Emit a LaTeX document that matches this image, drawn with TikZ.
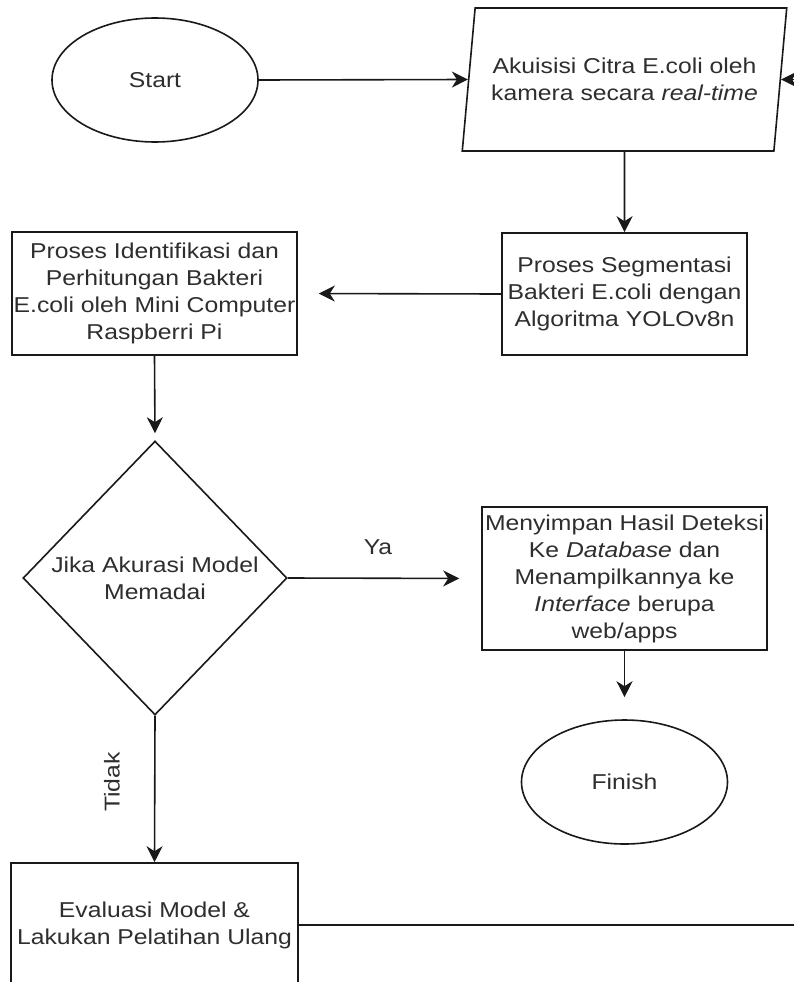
\documentclass[tikz,border=0pt]{standalone}
\usepackage{fontspec}
\setmainfont{Liberation Sans}[FakeStretch=1.15]
\usetikzlibrary{shapes.geometric,arrows.meta}
\begin{document}
\begin{tikzpicture}[x=1pt,y=-1pt,
  every node/.style={font=\fontsize{21.5}{27}\selectfont, text=black!82},
  flow/.style={draw=black!90, line width=1.6pt, fill=white},
  procbox/.style={flow, rectangle, align=center, inner sep=0pt},
  terminal/.style={flow, ellipse, inner sep=0pt, minimum width=206pt, minimum height=124pt},
  iobox/.style={flow, trapezium, trapezium left angle=75, trapezium right angle=105,
    trapezium stretches=true, minimum width=325pt, minimum height=143pt,
    align=center, inner sep=0pt},
  decision/.style={flow, diamond, align=center, inner sep=0pt,
    minimum width=264pt, minimum height=274pt},
  link/.style={draw=black!90, line width=1.6pt,
    -{Stealth[length=16pt,width=16pt,inset=5pt]}},
]
\useasboundingbox (0,0) rectangle (794,982);
\fill[white] (0,0) rectangle (794,982);
\clip (0,0) rectangle (794,982);

% flowchart blocks
\node[terminal] (start) at (155,80) {Start};
\node[iobox] (acq) at (624.5,79.5) {Akuisisi Citra E.coli oleh\\kamera secara \textit{real-time}};
\node[procbox, minimum width=245pt, minimum height=122pt] (seg) at (624.5,294)
  {Proses Segmentasi\\Bakteri E.coli dengan\\Algoritma YOLOv8n};
\node[procbox, minimum width=285pt, minimum height=123pt] (ident) at (154.5,293.5)
  {Proses Identifikasi dan\\Perhitungan Bakteri\\E.coli oleh Mini Computer\\Raspberri Pi};
\node[decision] (check) at (155,578) {Jika Akurasi Model\\Memadai};
\node[procbox, minimum width=285pt, minimum height=143pt] (store) at (624.5,578.5)
  {Menyimpan Hasil Deteksi\\Ke \textit{Database} dan\\Menampilkannya ke\\\textit{Interface} berupa\\web/apps};
\node[terminal] (finish) at (624.5,782) {Finish};
\node[procbox, minimum width=287pt, minimum height=124pt] (eval) at (154.5,925)
  {Evaluasi Model \&\\Lakukan Pelatihan Ulang};

% branch labels
\node (ya) at (378,547) {Ya};
\node[rotate=90] (tidak) at (112,782) {Tidak};

% connectors
\draw[link] (start.east) -- (acq.west);
\draw[link] (acq) -- (seg);
\draw[link, shorten >=21pt] (seg.west) -- (ident.east);
\draw[link, shorten >=7pt] (ident.south) -- (check.north);
\draw[link, shorten >=22pt] (check.east) -- (store.west);
\draw[link, shorten >=22pt] (store.south) -- (finish.north);
\draw[link] (check.south) -- (eval.north);
\draw[link] (eval.east) -- ++(540,0) |- (acq.east);
\end{tikzpicture}
\end{document}
